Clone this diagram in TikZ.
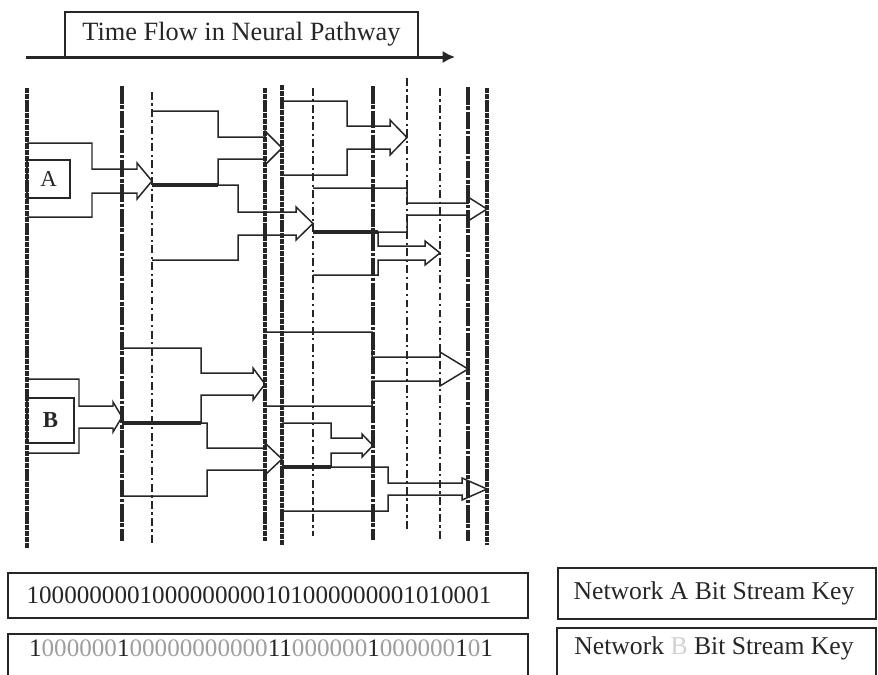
\documentclass[tikz,border=0pt]{standalone}
\usepackage{fontspec}
\setmainfont{Liberation Serif}
\usetikzlibrary{arrows.meta}

\definecolor{inkgray}{gray}{0.15}
\definecolor{zerogray}{gray}{0.62}
\definecolor{faintgray}{gray}{0.82}

\newcommand{\zeros}[1]{\textcolor{zerogray}{#1}}
% block arrow: x0, top, step, shaft top, shaft bottom, bottom, barb x, tip x, overhang
\newcommand{\pulse}[9]{%
  \draw [flow] (#1,#2) -- (#3,#2) -- (#3,#4) -- (#7,#4) -- (#7,{#4-#9})
    -- (#8,{(#4+#5)/2}) -- (#7,{#5+#9}) -- (#7,#5) -- (#3,#5) -- (#3,#6) -- (#1,#6);}

\tikzset{
  flow/.style={draw=inkgray, line width=0.85pt, line join=miter},
  seam/.style={draw=inkgray, line width=1.9pt},
  boldline/.style={draw=inkgray, line width=2pt, dash pattern=on 10pt off 1pt on 2pt off 1pt},
  fuzzline/.style={draw=inkgray, line width=1.8pt, dash pattern=on 3pt off 0.5pt},
  thinline/.style={draw=inkgray, line width=1pt, dash pattern=on 4.5pt off 2pt on 1.2pt off 2pt},
  framebox/.style={draw=inkgray, line width=0.85pt},
  keytext/.style={font=\fontsize{14.3}{16}\selectfont, text=inkgray, inner sep=0pt},
}

\begin{document}
\begin{tikzpicture}[x=0.02cm, y=-0.02cm]
  \clip (0,0) rectangle (878,674);
  \node [framebox, keytext, font=\fontsize{15}{17}\selectfont, minimum width=7.06cm, minimum height=0.9cm] at (241.5,34.5) (title) {Time Flow in Neural Pathway};
  \coordinate (t0) at (26,57);
  \coordinate (t1) at (455,57);
  \draw [draw=inkgray, line width=1.7pt, -{Latex[length=7pt,width=7pt]}] (t0) -- (t1);

  % time markers
  \foreach \x/\ya/\yb/\kind in {27/88/548/fuzzline, 122/86/541/boldline, 152/92/543/thinline,
      265/88/541/fuzzline, 282/85/546/fuzzline, 313/88/536/thinline, 373/86/540/boldline,
      407/78/530/thinline, 440/88/540/thinline, 468/87/541/boldline, 487/88/545/fuzzline}
    \draw [\kind] (\x,\ya) -- (\x,\yb);

  % network A
  \node [framebox, minimum width=0.86cm, minimum height=0.76cm, font=\fontsize{13}{15}\selectfont, text=inkgray] at (48.5,179) (netA) {A};
  \pulse{27}{143}{92}{169}{193}{217}{137}{152}{6}
  \pulse{152}{111}{218}{137}{159}{185}{265}{282}{6}
  \pulse{152}{185}{238}{212}{235}{260}{296}{313}{5}
  \pulse{282}{101}{347}{126}{149}{175}{390}{407}{6}
  \pulse{313}{188}{407}{203}{215}{232}{468}{487}{6}
  \pulse{313}{232}{378}{246}{260}{275}{425}{440}{5}
  \draw [seam] (152,185) -- (218,185);
  \draw [seam] (313,232) -- (378,232);

  % network B
  \node [framebox, minimum width=0.94cm, minimum height=0.9cm, font=\fontsize{13}{15}\selectfont\bfseries, text=inkgray] at (50.5,420.5) (netB) {B};
  \pulse{27}{379}{79}{406}{428}{453}{113}{122}{4}
  \pulse{122}{348}{201}{373}{395}{423}{253}{265}{5}
  \pulse{122}{423}{207}{448}{470}{496}{265}{282}{5}
  \pulse{265}{332}{372}{357}{381}{406}{440}{468}{5}
  \pulse{282}{423}{331}{438}{453}{467}{362}{373}{4}
  \pulse{282}{467}{388}{483}{495}{511}{462}{487}{5}
  \draw [seam] (122,423) -- (201,423);
  \draw [seam] (282,467) -- (331,467);

  % bit stream keys
  \draw [framebox] (8,573) rectangle (528,618);
  \node [keytext] at (259,595) (bitsA) {1000000001000000000101000000001010001};
  \draw [framebox] (8,634) rectangle (528,690);
  \node [keytext] at (261,648) (bitsB) {1\zeros{000000}1\zeros{00000000000}11\zeros{000000}1\zeros{000000}1\zeros{0}1};
  \draw [framebox] (558,568) rectangle (876,619);
  \node [keytext, font=\fontsize{14.6}{16}\selectfont] at (714,593) (keyA) {Network A Bit Stream Key};
  \draw [framebox] (557,628) rectangle (876,690);
  \node [keytext, font=\fontsize{14.6}{16}\selectfont] at (714,648) (keyB) {Network \textcolor{faintgray}{B} Bit Stream Key};
\end{tikzpicture}
\end{document}
